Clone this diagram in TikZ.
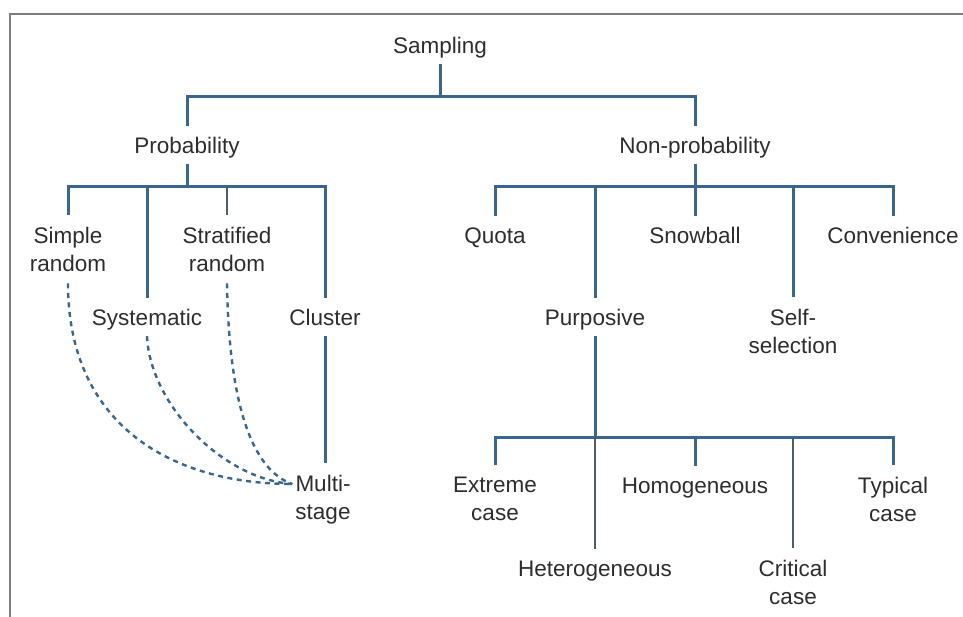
\documentclass[tikz,border=0pt]{standalone}
\usepackage{fontspec}
\setmainfont{Liberation Sans}
\definecolor{treeblue}{RGB}{58,102,140}
\definecolor{treegrey}{RGB}{75,92,110}
\definecolor{labelgrey}{RGB}{45,45,45}
\definecolor{framegrey}{RGB}{125,125,125}
\begin{document}
\begin{tikzpicture}[x=1pt,y=-1pt,
  labelfont/.style={font=\fontsize{22.5}{28}\selectfont, text=labelgrey},
  lbl/.style={labelfont, inner xsep=3pt, inner ysep=0pt, text height=27.7pt, text depth=10.3pt},
  lbltwo/.style={labelfont, align=center, inner xsep=3pt, inner ysep=12pt},
  tree/.style={draw=treeblue, line width=3pt},
  treethin/.style={draw=treegrey, line width=1.9pt},
  linkdash/.style={draw=treeblue, line width=2.4pt, dash pattern=on 5pt off 4.5pt},
  frame/.style={draw=framegrey, line width=1.5pt}]
\useasboundingbox (0,0) rectangle (963,617);

% border (top and left edges)
\draw[frame] (963,14) -- (10,14) -- (10,617);

% labels
\node[lbl] (samp) at (440,45) {Sampling};
\node[lbl] (prob) at (187,145) {Probability};
\node[lbl] (nonprob) at (695,145) {Non-probability};

\node[lbltwo] (simple) at (68,249) {Simple\\random};
\node[lbl] (syst) at (147,317) {Systematic};
\node[lbltwo] (strat) at (227,249) {Stratified\\random};
\node[lbl] (cluster) at (325,317) {Cluster};
\node[lbltwo] (multi) at (323,500) {Multi-\\stage};

\node[lbl] (quota) at (495,235) {Quota};
\node[lbl] (purp) at (595,317) {Purposive};
\node[lbl] (snow) at (695,235) {Snowball};
\node[lbltwo] (self) at (793,331) {Self-\\selection};
\node[lbl] (conv) at (893,235) {Convenience};

\node[lbltwo] (extreme) at (495,499) {Extreme\\case};
\node[lbl] (hetero) at (595,568) {Heterogeneous};
\node[lbl] (homo) at (695,485) {Homogeneous};
\node[lbltwo] (crit) at (793,582) {Critical\\case};
\node[lbltwo] (typ) at (893,499) {Typical\\case};

% junction levels
\coordinate (top) at (440,97);
\coordinate (pbar) at (187,187);
\coordinate (nbar) at (695,187);
\coordinate (qbar) at (595,437);
\coordinate (mjoin) at ([yshift=16pt]multi.west);

% first level
\draw[tree] (samp.south) -- (samp.south |- top);
\draw[tree] (prob.north) -- (prob.north |- top) -- (nonprob.north |- top) -- (nonprob.north);

% probability branch
\draw[tree] (prob.south) -- (pbar);
\draw[tree] (simple.north) -- (simple.north |- pbar) -- (cluster.north |- pbar) -- (cluster.north);
\draw[tree] (syst.north) -- (syst.north |- pbar);
\draw[treethin] (strat.north) -- (strat.north |- pbar);
\draw[tree] (cluster.south) -- (cluster.south |- multi.north);

% links into multi-stage
\draw[linkdash] (simple.south) .. controls +(0,142) and +(-120,0) .. (mjoin);
\draw[linkdash] (syst.south) .. controls +(3,68) and +(-70,-5) .. (mjoin);
\draw[linkdash] (strat.south) .. controls +(2,122) and +(-40,-14) .. (mjoin);

% non-probability branch
\draw[tree] (nonprob.south) -- (nbar);
\draw[tree] (quota.north) -- (quota.north |- nbar) -- (conv.north |- nbar) -- (conv.north);
\draw[tree] (purp.north) -- (purp.north |- nbar);
\draw[tree] (snow.north) -- (snow.north |- nbar);
\draw[tree] (self.north) -- (self.north |- nbar);

% purposive sub-types
\draw[tree] (purp.south) -- (qbar);
\draw[tree] (extreme.north) -- (extreme.north |- qbar) -- (typ.north |- qbar) -- (typ.north);
\draw[treethin] (hetero.north) -- (hetero.north |- qbar);
\draw[tree] (homo.north) -- (homo.north |- qbar);
\draw[treethin] (crit.north) -- (crit.north |- qbar);
\end{tikzpicture}
\end{document}
